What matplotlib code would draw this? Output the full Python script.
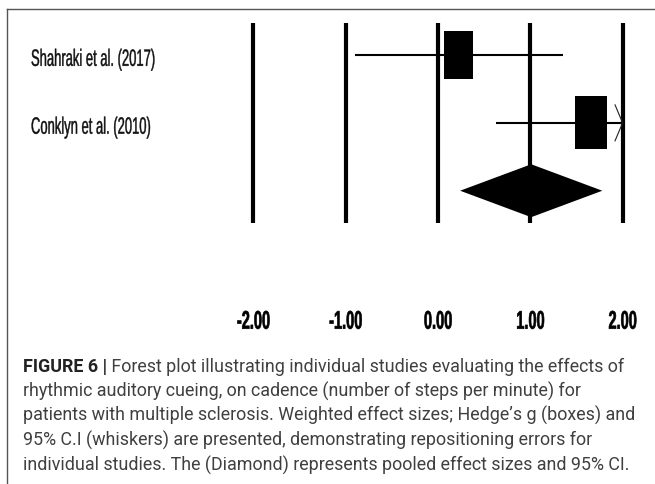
"""Forest plot: rhythmic auditory cueing on cadence (multiple sclerosis)"""
import numpy as np
import matplotlib
matplotlib.use('Agg')
from matplotlib import pyplot as plt
from matplotlib import patheffects
from matplotlib.patches import Rectangle, Polygon
from matplotlib.lines import Line2D
from matplotlib.transforms import Affine2D, blended_transform_factory

# 数据 (从原图读出来的)
studies = ['Shahraki et al. (2017)', 'Conklyn et al. (2010)']
effects = [0.22, 1.66]          # Hedge's g
ci_low = [-0.90, 0.63]
ci_high = [1.35, 2.69]
weights = [46, 54]              # 权重 %, 决定方块大小

pooled_effect = 1.01
pooled_low = 0.24
pooled_high = 1.78

ticks = [-2, -1, 0, 1, 2]
tick_labels = ['-2.00', '-1.00', '0.00', '1.00', '2.00']

caption_head = 'FIGURE 6 |'
caption_lines = [
    'Forest plot illustrating individual studies evaluating the effects of',
    'rhythmic auditory cueing, on cadence (number of steps per minute) for',
    'patients with multiple sclerosis. Weighted effect sizes; Hedge\u2019s g (boxes) and',
    '95% C.I (whiskers) are presented, demonstrating repositioning errors for',
    'individual studies. The (Diamond) represents pooled effect sizes and 95% CI.',
]


class Squeeze(patheffects.AbstractPathEffect):
    """原图的字是横向压扁的, 这里把文字路径横向缩一下 (再描一点边加粗)"""

    def __init__(self, sx, anchor='center', thicken=0.0):
        super().__init__()
        self.sx = sx
        self.anchor = anchor
        self.thicken = thicken

    def draw_path(self, renderer, gc, tpath, affine, rgbFace=None):
        ext = tpath.get_extents()
        x0 = 0 if self.anchor == 'left' else (ext.x0 + ext.x1) / 2
        squeeze = Affine2D().translate(-x0, 0).scale(self.sx, 1).translate(x0, 0)
        gc0 = renderer.new_gc()
        gc0.copy_properties(gc)
        if self.thicken and rgbFace is not None:
            gc0.set_linewidth(self.thicken)
            gc0.set_foreground(rgbFace)
        renderer.draw_path(gc0, tpath, squeeze + affine, rgbFace)
        gc0.restore()


W, H = 655, 484
fig = plt.figure(figsize=(W / 100, H / 100), dpi=100)

# 森林图区域 (上面 300 像素)
ax = fig.add_axes([0, 1 - 300 / H, 1, 300 / H])
ax.set_xlim(-4.745, 2.351)
ax.set_ylim(3.61, -0.81)
for s in ax.spines.values():
    s.set_visible(False)
ax.set_yticks([])
ax.set_xticks(ticks, tick_labels, fontsize=18.4, fontweight='bold', family='Liberation Sans')
ax.tick_params(axis='x', length=0, pad=7)
for lab in ax.get_xticklabels():
    lab.set_path_effects([Squeeze(0.57, thicken=0.45)])

rows = np.arange(len(studies))
pooled_row = len(studies)

# 竖线
ax.vlines(ticks, -0.476, pooled_row + 0.472, colors='black', lw=3)

# 每个研究: 误差线 + 方块
for r, e, lo, hi, w in zip(rows, effects, ci_low, ci_high, weights):
    ax.hlines(r, lo, min(hi, ticks[-1]), colors='black', lw=1.5)
    side = np.sqrt(w)
    bw, bh = 0.0464 * side, 0.106 * side
    ax.add_patch(Rectangle((e - bw / 2, r - bh / 2), bw, bh, color='black', lw=0))
    if hi > ticks[-1]:
        # 超出范围 画个箭头
        x_end = ticks[-1]
        ax.plot([x_end - 0.082, x_end, x_end - 0.082], [r - 0.265, r, r + 0.265],
                color='#222222', lw=0.8)

# 合并效应 菱形
dh = 0.39
diamond = Polygon([(pooled_low, pooled_row), (pooled_effect, pooled_row - dh),
                   (pooled_high, pooled_row), (pooled_effect, pooled_row + dh)],
                  closed=True, color='black', lw=0)
ax.add_patch(diamond)

# 研究名称
trans = blended_transform_factory(ax.transAxes, ax.transData)
for r, name in zip(rows, studies):
    ax.text(31 / W, r + 0.16, name, transform=trans, ha='left', va='baseline',
            fontsize=17, family='Liberation Sans', color='#111111',
            path_effects=[Squeeze(0.55, 'left', thicken=0.3)])

# 图注
cap_font = dict(fontsize=12.9, family=['Roboto', 'Liberation Sans', 'DejaVu Sans'])
base0 = 371.7
step = 24.7
head = fig.text(23 / W, 1 - base0 / H, caption_head, va='baseline', fontweight='bold',
                color='#222222', **cap_font)
plt.annotate(' ' + caption_lines[0], xy=(1, 1 - base0 / H),
             xycoords=(head, 'figure fraction'), va='baseline', ha='left',
             color='#404040', annotation_clip=False, **cap_font)
for i, line in enumerate(caption_lines[1:], start=1):
    fig.text(23 / W, 1 - (base0 + i * step) / H, line, va='baseline',
             color='#404040', **cap_font)

# 外框 (只看到上边和左边)
fig.add_artist(Line2D([7 / W, 1], [1 - 9 / H, 1 - 9 / H], transform=fig.transFigure,
                      color='#555555', lw=1))
fig.add_artist(Line2D([7 / W, 7 / W], [0, 1 - 9 / H], transform=fig.transFigure,
                      color='#555555', lw=1))

fig.savefig('out.png', dpi=100)
